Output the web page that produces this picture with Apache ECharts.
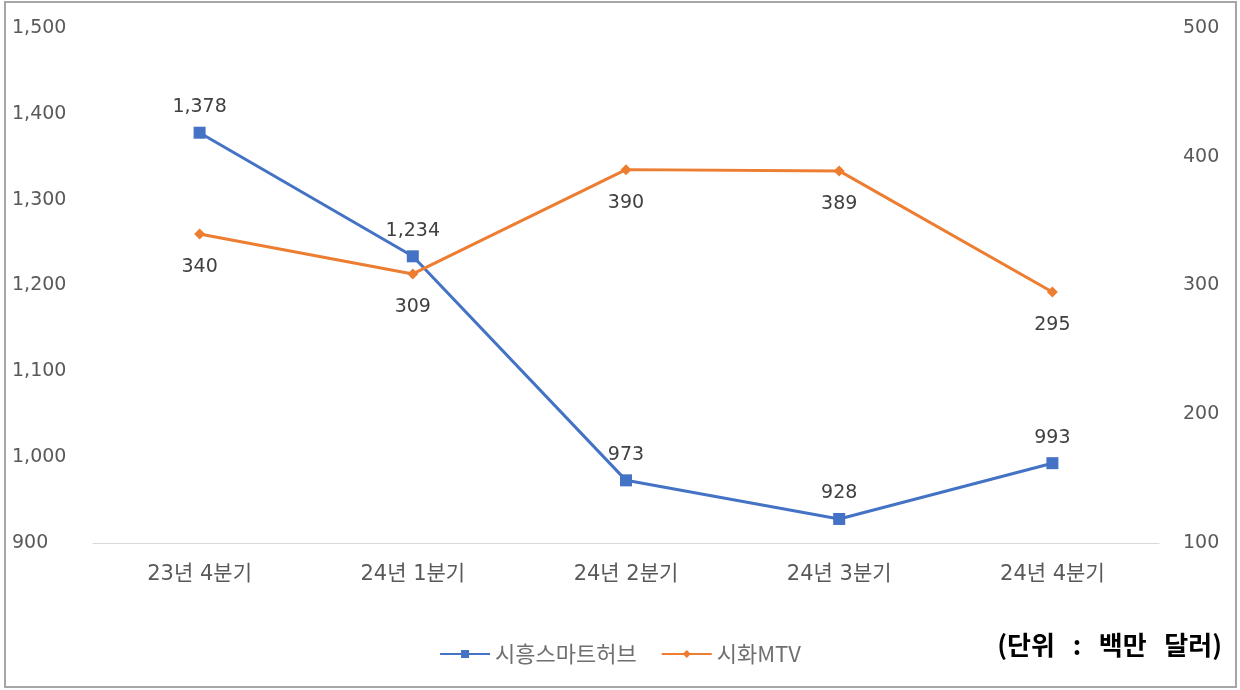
<!DOCTYPE html>
<html>
<head>
<meta charset="utf-8">
<script src="https://cdn.jsdelivr.net/npm/echarts@6/dist/echarts.min.js"></script>
<style>
  html, body { margin: 0; padding: 0; background: #fff; }
  #chart { width: 1240px; height: 690px; }
</style>
</head>
<body>
<div id="chart"></div>
<script>
const categories = ['23년 4분기', '24년 1분기', '24년 2분기', '24년 3분기', '24년 4분기'];
const siheungHub = [1378, 1234, 973, 928, 993];
const sihwaMTV = [340, 309, 390, 389, 295];

const font = "'DejaVu Sans', 'Noto Sans CJK KR', sans-serif";
const krFont = "'Noto Sans CJK KR', sans-serif";
const fmt = (v) => v.toLocaleString('en-US');

const chart = echarts.init(document.getElementById('chart'));
chart.setOption({
  animation: false,
  grid: { left: 93, right: 81, top: 28, bottom: 147 },
  legend: {
    bottom: 20,
    left: 'center',
    itemGap: 24,
    itemWidth: 50,
    itemHeight: 10,
    textStyle: { fontFamily: krFont, fontSize: 22, color: '#6f6f6f' },
    data: ['시흥스마트허브', '시화MTV']
  },
  xAxis: {
    type: 'category',
    data: categories,
    axisTick: { show: false },
    axisLine: { lineStyle: { color: '#d9d9d9' } },
    axisLabel: { fontFamily: font, fontSize: 21, color: '#595959', margin: 21 }
  },
  yAxis: [
    {
      type: 'value', min: 900, max: 1500, interval: 100,
      splitLine: { show: false },
      axisLabel: {
        fontFamily: font, fontSize: 19, color: '#595959',
        formatter: fmt, align: 'left', margin: 81, lineHeight: 30, verticalAlign: 'middle'
      }
    },
    {
      type: 'value', min: 100, max: 500, interval: 100,
      splitLine: { show: false },
      axisLabel: { fontFamily: font, fontSize: 19, color: '#595959', margin: 24, lineHeight: 30 }
    }
  ],
  series: [
    {
      name: '시흥스마트허브',
      type: 'line',
      yAxisIndex: 0,
      data: siheungHub,
      symbol: 'rect',
      symbolSize: 12,
      color: '#4472C4',
      lineStyle: { width: 3 },
      label: {
        show: true, position: 'top', distance: 10,
        fontFamily: font, fontSize: 19, color: '#404040',
        formatter: (p) => fmt(p.value)
      }
    },
    {
      name: '시화MTV',
      type: 'line',
      yAxisIndex: 1,
      data: sihwaMTV,
      symbol: 'diamond',
      symbolSize: 11,
      color: '#ED7D31',
      lineStyle: { width: 3 },
      label: {
        show: true, position: 'bottom', distance: 18,
        fontFamily: font, fontSize: 19, color: '#404040'
      }
    }
  ],
  graphic: [
    {
      type: 'rect',
      shape: { x: 5, y: 2, width: 1231, height: 685 },
      style: { fill: 'none', stroke: '#a6a6a6', lineWidth: 2 }
    },
    {
      type: 'text',
      right: 18,
      top: 632,
      style: {
        text: '(단위   :   백만   달러)',
        font: "bold 26px 'Noto Sans CJK KR', sans-serif",
        fill: '#000'
      }
    }
  ]
});
</script>
</body>
</html>
